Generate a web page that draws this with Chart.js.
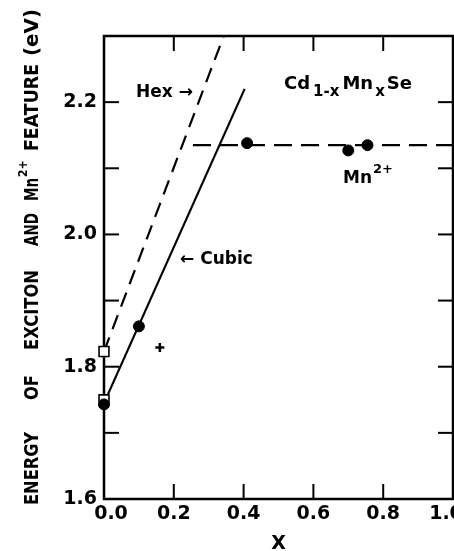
<!DOCTYPE html>
<html>
<head>
<meta charset="utf-8">
<script src="https://cdn.jsdelivr.net/npm/chart.js@4.4.1/dist/chart.umd.min.js"></script>
<style>
  html, body { margin: 0; padding: 0; background: #fff; overflow: hidden; }
  canvas { display: block; }
</style>
</head>
<body>
<canvas id="c" width="454" height="551"></canvas>
<script>
// Cd(1-x)Mn(x)Se: exciton energies (hexagonal / cubic) and the Mn2+ feature vs. x

// axis ticks
const xTickValues = [0.0, 0.2, 0.4, 0.6, 0.8, 1.0];
const xInnerTicks = [0.2, 0.4, 0.6, 0.8];
const yLabelled = [1.6, 1.8, 2.0, 2.2];
const yInnerTicks = [1.7, 1.8, 1.9, 2.0, 2.1, 2.2];

// measured points
const cubicX = [0.0, 0.1];            // filled circles on the cubic line
const cubicE = [1.743, 1.861];
const hexX = [0.0, 0.0];              // open squares
const hexE = [1.823, 1.750];
const plusX = [0.16];
const plusE = [1.829];
const mnX = [0.41, 0.70, 0.755];      // Mn2+ feature
const mnE = [2.138, 2.127, 2.135];

// drawn lines
const cubicLineX = [0.0, 0.403];
const cubicLineE = [1.745, 2.220];
const hexLineX = [0.0, 0.343];
const hexLineE = [1.823, 2.300];
const mnLineX = [0.255, 1.0];
const mnLineE = [2.135, 2.135];

const FAMILY = '"DejaVu Sans", "Liberation Sans", sans-serif';
const pts = (xs, ys) => xs.map((x, i) => ({ x, y: ys[i] }));

function strokeLine(ctx, x1, y1, x2, y2) {
  ctx.beginPath(); ctx.moveTo(x1, y1); ctx.lineTo(x2, y2); ctx.stroke();
}

// text made of runs (normal / sub / superscript), left aligned at x, baseline y
function drawRuns(ctx, x, y, runs) {
  let pos = x;
  for (const r of runs) {
    ctx.font = `bold ${r.size}px ${FAMILY}`;
    ctx.fillText(r.t, pos, y + (r.dy || 0));
    pos += ctx.measureText(r.t).width + (r.after || 0);
  }
}

// frame, inward ticks and x tick labels, under the data
const framePlugin = {
  id: 'frame',
  beforeDatasetsDraw(chart) {
    const { ctx, chartArea: a, scales: { x, y } } = chart;
    ctx.save();
    ctx.strokeStyle = '#000';
    ctx.lineWidth = 2.5;
    ctx.strokeRect(a.left, a.top, a.right - a.left, a.bottom - a.top);
    ctx.lineWidth = 2;
    const T = 15;
    for (const v of yInnerTicks) {
      const py = y.getPixelForValue(v);
      strokeLine(ctx, a.left, py, a.left + T, py);
      strokeLine(ctx, a.right, py, a.right - T, py);
    }
    for (const v of xInnerTicks) {
      const px = x.getPixelForValue(v);
      strokeLine(ctx, px, a.bottom, px, a.bottom - T);
      strokeLine(ctx, px, a.top, px, a.top + T);
    }
    // x tick labels (the end ones are nudged inward a little)
    ctx.fillStyle = '#000';
    ctx.font = `bold 19px ${FAMILY}`;
    ctx.textAlign = 'center';
    ctx.textBaseline = 'middle';
    for (const v of xTickValues) {
      const nudge = v === 0 ? 7 : (v === 1 ? -7 : 0);
      ctx.fillText(v.toFixed(1), x.getPixelForValue(v) + nudge, a.bottom + 15);
    }
    ctx.restore();
  }
};

// labels inside the plot and the vertical axis title
const labelPlugin = {
  id: 'labels',
  afterDraw(chart) {
    const { ctx } = chart;
    ctx.save();
    ctx.fillStyle = '#000';
    ctx.textBaseline = 'alphabetic';
    ctx.textAlign = 'left';

    drawRuns(ctx, 136, 97, [{ t: 'Hex \u2192', size: 17 }]);
    drawRuns(ctx, 180, 264, [{ t: '\u2190 Cubic', size: 17 }]);
    drawRuns(ctx, 284, 89, [
      { t: 'Cd', size: 18, after: 3 },
      { t: '1-x', size: 15, dy: 7, after: 3 },
      { t: 'Mn', size: 18, after: 2 },
      { t: 'x', size: 15, dy: 7, after: 2 },
      { t: 'Se', size: 18 }
    ]);
    drawRuns(ctx, 343, 183, [
      { t: 'Mn', size: 17, after: 1 },
      { t: '2+', size: 13, dy: -10 }
    ]);

    // rotated axis title: each word starts at `from` (screen y) and spans `len` px
    ctx.translate(38, 0);
    ctx.rotate(-Math.PI / 2);
    const words = [
      { t: 'ENERGY', from: 505, len: 73 },
      { t: 'OF', from: 400, len: 25 },
      { t: 'EXCITON', from: 350, len: 80 },
      { t: 'AND', from: 246, len: 33 },
      { t: 'Mn', from: 201, len: 23, sup: '2+' },
      { t: 'FEATURE', from: 151, len: 87 },
      { t: '(eV)', from: 56, len: 47 }
    ];
    for (const w of words) {
      ctx.font = `bold 20px ${FAMILY}`;
      const natural = ctx.measureText(w.t).width;
      const k = w.len / natural;
      ctx.save();
      ctx.translate(-w.from, 0);
      ctx.scale(k, 1);
      ctx.fillText(w.t, 0, 0);
      ctx.restore();
      if (w.sup) {
        ctx.font = `bold 12px ${FAMILY}`;
        ctx.save();
        ctx.translate(-w.from + w.len + 1, -11);
        ctx.scale(0.9, 1);
        ctx.fillText(w.sup, 0, 0);
        ctx.restore();
      }
    }
    ctx.restore();
  }
};

const markerBase = { clip: false, borderColor: '#000' };

new Chart(document.getElementById('c'), {
  type: 'scatter',
  data: {
    datasets: [
      { ...markerBase, data: pts(cubicX, cubicE), pointStyle: 'circle', pointRadius: 5.5,
        backgroundColor: '#000', borderWidth: 1, order: 0 },
      { ...markerBase, data: pts(mnX, mnE), pointStyle: 'circle', pointRadius: 5.5,
        backgroundColor: '#000', borderWidth: 1, order: 0 },
      { ...markerBase, data: pts(hexX, hexE), pointStyle: 'rect', pointRadius: 7,
        backgroundColor: '#fff', borderWidth: 1.6, order: 1 },
      { ...markerBase, data: pts(plusX, plusE), pointStyle: 'cross', pointRadius: 4.5,
        borderWidth: 2.5, order: 2 },
      { data: pts(cubicLineX, cubicLineE), showLine: true, pointRadius: 0,
        borderColor: '#000', borderWidth: 2.2, order: 3 },
      { data: pts(hexLineX, hexLineE), showLine: true, pointRadius: 0,
        borderColor: '#000', borderWidth: 2.2, borderDash: [15, 9], order: 3 },
      { data: pts(mnLineX, mnLineE), showLine: true, pointRadius: 0,
        borderColor: '#000', borderWidth: 2.2, borderDash: [18, 9], order: 3 }
    ]
  },
  options: {
    responsive: false,
    devicePixelRatio: 1,
    animation: false,
    layout: { autoPadding: false, padding: { top: 36, right: 1, left: 0, bottom: 0 } },
    plugins: { legend: { display: false }, tooltip: { enabled: false } },
    scales: {
      x: {
        type: 'linear', min: 0, max: 1,
        grid: { display: false, drawTicks: false },
        border: { display: false },
        ticks: { display: false },
        title: {
          display: true, text: 'X', color: '#000', padding: 0,
          font: { family: FAMILY, size: 19, weight: 'bold', lineHeight: 0.75 }
        },
        afterFit: s => { s.height = 52; s.paddingLeft = 0; s.paddingRight = 0; }
      },
      y: {
        type: 'linear', min: 1.6, max: 2.3,
        grid: { display: false, drawTicks: false },
        border: { display: false },
        afterBuildTicks: s => { s.ticks = yLabelled.map(v => ({ value: v })); },
        ticks: {
          padding: 7, color: '#000',
          font: { family: FAMILY, size: 19, weight: 'bold' },
          callback: v => v.toFixed(1)
        },
        afterFit: s => { s.width = 104; s.paddingTop = 0; s.paddingBottom = 0; }
      }
    }
  },
  plugins: [framePlugin, labelPlugin]
});
</script>
</body>
</html>
